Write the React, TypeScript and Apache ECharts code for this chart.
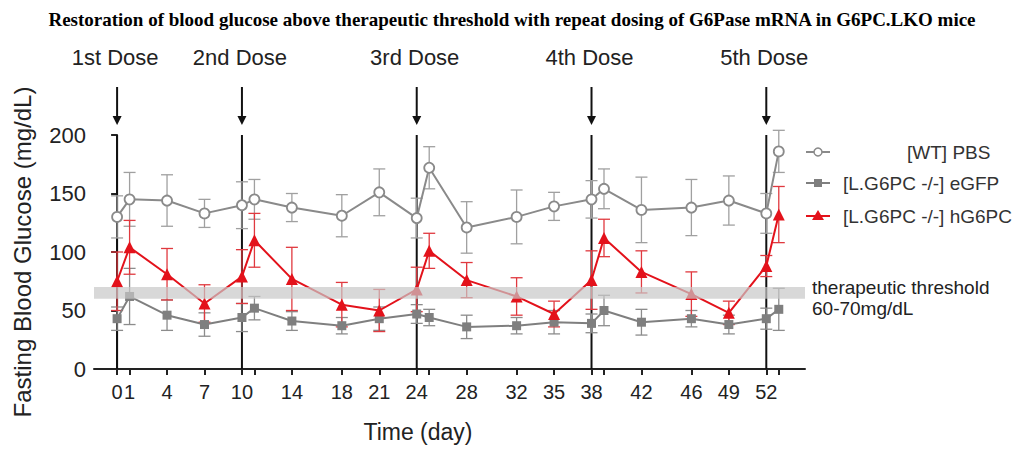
import React, { useEffect, useRef } from "react";
import * as echarts from "echarts";

const days = [0, 1, 4, 7, 10, 11, 14, 18, 21, 24, 25, 28, 32, 35, 38, 39, 42, 46, 49, 52, 53];
const labelDays = [0, 1, 4, 7, 10, 14, 18, 21, 24, 28, 32, 35, 38, 42, 46, 49, 52];

const wtPBS = [130, 145, 144, 133, 140, 145, 138, 131, 151, 129, 172, 121, 130, 139, 145, 154, 136, 138, 144, 133, 186];
const wtPBSErr = [18, 23, 22, 12, 20, 17, 12, 18, 20, 17, 18, 22, 23, 12, 16, 17, 28, 24, 21, 17, 18];

const eGFP = [43, 62, 46, 38, 44, 52, 41, 37, 43, 47, 44, 36, 37, 40, 39, 50, 40, 43, 38, 43, 51];
const eGFPErr = [10, 24, 13, 10, 12, 10, 8, 7, 10, 8, 7, 10, 7, 10, 8, 13, 11, 7, 8, 9, 18];

const hG6PC = [75, 104, 81, 56, 79, 110, 77, 55, 50, 68, 101, 76, 62, 47, 76, 112, 83, 64, 48, 88, 132];
const hG6PCErr = [25, 23, 22, 16, 23, 23, 27, 19, 18, 19, 15, 15, 16, 11, 25, 16, 18, 19, 10, 9, 24];

const doseDays = [0, 10, 24, 38, 52];
const doseLabels = ["1st Dose", "2nd Dose", "3rd Dose", "4th Dose", "5th Dose"];

const threshold = [60, 70];

const seriesNames = ["[WT] PBS", "[L.G6PC -/-] eGFP", "[L.G6PC -/-] hG6PC"];

const FONT = "Liberation Sans, Arial, sans-serif";

function errSeries(vals: number[], errs: number[], color: string, z: number) {
  return {
    type: "custom",
    silent: true,
    z,
    encode: { x: 0, y: 1 },
    data: days.map((d, i) => [d, vals[i], errs[i]]),
    renderItem: (_p: any, api: any) => {
      const x = api.value(0);
      const y = api.value(1);
      const e = api.value(2);
      const t = api.coord([x, y + e]);
      const b = api.coord([x, y - e]);
      const hw = 6;
      const st = { stroke: color, lineWidth: 1.3 };
      return {
        type: "group",
        children: [
          { type: "line", shape: { x1: t[0], y1: t[1], x2: b[0], y2: b[1] }, style: st },
          { type: "line", shape: { x1: t[0] - hw, y1: t[1], x2: t[0] + hw, y2: t[1] }, style: st },
          { type: "line", shape: { x1: b[0] - hw, y1: b[1], x2: b[0] + hw, y2: b[1] }, style: st },
        ],
      };
    },
  };
}

export default function App() {
  const ref = useRef<HTMLDivElement>(null);
  useEffect(() => {
    if (!ref.current) return;
    const chart = echarts.init(ref.current, null, { renderer: "svg" });
    const lx = 806;
    const legendRows = [152, 183, 216];
    const option: any = {
      animation: false,
      backgroundColor: "#fff",
      title: {
        text: "Restoration of blood glucose above therapeutic threshold with repeat dosing of G6Pase mRNA in G6PC.LKO mice",
        left: "center",
        top: 5,
        textStyle: { fontFamily: "Liberation Serif, Times New Roman, serif", fontWeight: "bold", fontSize: 19, color: "#000" },
      },
      grid: { left: 94, right: 219, top: 135, bottom: 82 },
      xAxis: {
        type: "value",
        min: -1.85,
        max: 55.1,
        splitLine: { show: false },
        axisLine: { lineStyle: { color: "#222", width: 2 } },
        axisTick: { show: true, length: 6, lineStyle: { color: "#222", width: 2 }, customValues: days },
        axisLabel: { customValues: labelDays, fontSize: 20, color: "#222", margin: 13, fontFamily: FONT },
      },
      yAxis: {
        type: "value",
        min: 0,
        max: 200,
        interval: 50,
        splitLine: { show: false },
        axisLine: { show: true, lineStyle: { color: "#222", width: 2 } },
        axisTick: { show: true, length: 6, lineStyle: { color: "#222", width: 2 } },
        axisLabel: { fontSize: 22, color: "#222", margin: 8, fontFamily: FONT },
        name: "Fasting Blood Glucose (mg/dL)",
        nameLocation: "middle",
        nameGap: 60,
        nameTextStyle: { fontSize: 24, color: "#222", fontFamily: FONT },
      },
      graphic: [
        { type: "text", x: 418, y: 432, style: { text: "Time (day)", fontSize: 23, fill: "#222", fontFamily: FONT, align: "center", verticalAlign: "middle" } },
        { type: "text", x: 812, y: 298, style: { text: "therapeutic threshold\n60-70mg/dL", fontSize: 19, lineHeight: 21, fill: "#222", fontFamily: FONT, verticalAlign: "middle" } },
        // legend
        { type: "line", shape: { x1: lx, y1: legendRows[0], x2: lx + 24, y2: legendRows[0] }, style: { stroke: "#8a8a8a", lineWidth: 2 } },
        { type: "circle", shape: { cx: lx + 12, cy: legendRows[0], r: 4 }, style: { fill: "#fff", stroke: "#8a8a8a", lineWidth: 1.5 } },
        { type: "text", x: 907, y: legendRows[0], style: { text: seriesNames[0], fontSize: 19, fill: "#333", fontFamily: FONT, verticalAlign: "middle" } },
        { type: "line", shape: { x1: lx, y1: legendRows[1], x2: lx + 24, y2: legendRows[1] }, style: { stroke: "#7f7f7f", lineWidth: 2 } },
        { type: "rect", shape: { x: lx + 8, y: legendRows[1] - 4, width: 8, height: 8 }, style: { fill: "#7f7f7f" } },
        { type: "text", x: 843, y: legendRows[1], style: { text: seriesNames[1], fontSize: 19, fill: "#333", fontFamily: FONT, verticalAlign: "middle" } },
        { type: "line", shape: { x1: lx, y1: legendRows[2], x2: lx + 24, y2: legendRows[2] }, style: { stroke: "#e3121b", lineWidth: 2 } },
        { type: "polygon", shape: { points: [[lx + 12, legendRows[2] - 6], [lx + 18, legendRows[2] + 4], [lx + 6, legendRows[2] + 4]] }, style: { fill: "#e3121b" } },
        { type: "text", x: 843, y: legendRows[2], style: { text: seriesNames[2], fontSize: 19, fill: "#333", fontFamily: FONT, verticalAlign: "middle" } },
      ],
      series: [
        {
          type: "custom",
          silent: true,
          z: 1,
          encode: { x: 0 },
          data: doseDays.map((d, i) => [d, doseLabels[i]]),
          renderItem: (_p: any, api: any) => {
            const d = api.value(0);
            const p0 = api.coord([d, 0]);
            const p1 = api.coord([d, 200]);
            const x = p1[0];
            const tip = p1[1] - 10;
            return {
              type: "group",
              children: [
                { type: "line", shape: { x1: x, y1: p0[1], x2: x, y2: p1[1] }, style: { stroke: "#111", lineWidth: 2 } },
                { type: "line", shape: { x1: x, y1: p1[1] - 48, x2: x, y2: tip - 6 }, style: { stroke: "#111", lineWidth: 2 } },
                { type: "polygon", shape: { points: [[x - 4.5, tip - 9], [x + 4.5, tip - 9], [x, tip]] }, style: { fill: "#111" } },
                { type: "text", x: x - 2, y: p1[1] - 78, style: { text: doseLabels[_p.dataIndex], fontSize: 22, fill: "#222", fontFamily: FONT, align: "center", verticalAlign: "middle" } },
              ],
            };
          },
        },
        errSeries(wtPBS, wtPBSErr, "#a0a0a0", 2),
        errSeries(eGFP, eGFPErr, "#8c8c8c", 2),
        errSeries(hG6PC, hG6PCErr, "#e0393f", 2),
        {
          name: seriesNames[0],
          type: "line",
          z: 3,
          data: days.map((d, i) => [d, wtPBS[i]]),
          symbol: "circle",
          symbolSize: 10,
          lineStyle: { color: "#8a8a8a", width: 2 },
          itemStyle: { color: "#fff", borderColor: "#8a8a8a", borderWidth: 1.8 },
        },
        {
          name: seriesNames[1],
          type: "line",
          z: 3,
          data: days.map((d, i) => [d, eGFP[i]]),
          symbol: "rect",
          symbolSize: 9,
          lineStyle: { color: "#7f7f7f", width: 2 },
          itemStyle: { color: "#7f7f7f" },
        },
        {
          name: seriesNames[2],
          type: "line",
          z: 3,
          data: days.map((d, i) => [d, hG6PC[i]]),
          symbol: "triangle",
          symbolSize: 12,
          lineStyle: { color: "#e3121b", width: 2 },
          itemStyle: { color: "#e3121b" },
        },
        {
          type: "custom",
          silent: true,
          z: 4,
          data: [[threshold[0], threshold[1]]],
          encode: { y: [0, 1] },
          renderItem: (params: any, api: any) => {
            const cs = params.coordSys;
            const yTop = api.coord([0, api.value(1)])[1];
            const yBot = api.coord([0, api.value(0)])[1];
            return {
              type: "rect",
              shape: { x: cs.x, y: yTop, width: cs.width, height: yBot - yTop },
              style: { fill: "rgba(200,200,200,0.7)" },
            };
          },
        },
      ],
    };
    chart.setOption(option);
    return () => chart.dispose();
  }, []);
  return <div ref={ref} style={{ position: "fixed", left: 0, top: 0, width: 1024, height: 451 }} />;
}
